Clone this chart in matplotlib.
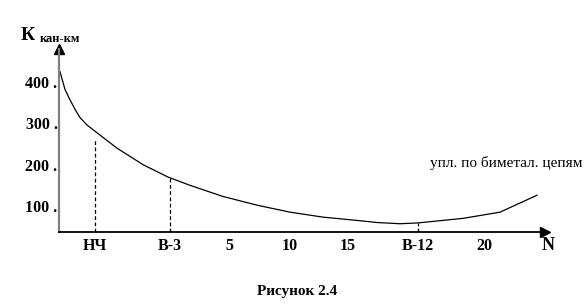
import matplotlib
matplotlib.use("Agg")
import matplotlib.pyplot as plt

# data (x in arbitrary axis units, y in кан-км)
curve_x = [0.1, 0.6, 1.1, 1.6, 2.1, 2.8, 4.4, 5.8, 8.4, 10.9, 13.1, 16.4, 19.8, 23.1, 26.4, 29.8, 31.8, 34.1, 35.9, 40.4, 44.1, 47.8]
curve_y = [425, 382, 357, 334, 314, 296, 266, 240, 200, 170, 150, 123, 102, 85, 73, 65, 60, 57, 59, 70, 85, 126]
tick_pos = [3.6, 11.1, 17.0, 23.1, 28.9, 35.9, 42.5]
tick_labels = ["НЧ", "В-3", "5", "10", "15", "В-12", "20"]
drop_x = [3.6, 11.1, 35.9]
drop_y = [262, 167, 58]
ytick_vals = [100, 200, 300, 400]
ytick_labels = ["100 .", "200 .", "300 .", "400 ."]

W, H = 588, 308
fig = plt.figure(figsize=(W / 100, H / 100), dpi=100)
x0, x1, yb, yt = 59, 545, 232, 49
ax = fig.add_axes([x0 / W, (H - yb) / H, (x1 - x0) / W, (yb - yt) / H])
ax.set_xlim(0, 48.6)
ax.set_ylim(37, 480)

serif = ["Liberation Serif", "DejaVu Serif"]

ax.plot(curve_x, curve_y, color="black", lw=0.9)
for dx, dy in zip(drop_x, drop_y):
    ax.plot([dx, dx], [37, dy], color="black", lw=0.9, ls=(0, (3, 2)))

for s in ["top", "right"]:
    ax.spines[s].set_visible(False)
ax.spines["left"].set_color("#808080")
ax.spines["left"].set_linewidth(1.6)
ax.spines["bottom"].set_color("black")
ax.spines["bottom"].set_linewidth(1.3)

ax.set_xticks(tick_pos)
ax.set_xticklabels(tick_labels, family=serif, fontweight="bold", fontsize=11.5)
ax.set_yticks(ytick_vals)
ax.set_yticklabels(ytick_labels, family=serif, fontweight="bold", fontsize=11.5)
ax.tick_params(axis="both", length=0)
ax.tick_params(axis="x", pad=4)
ax.tick_params(axis="y", pad=1)

# axis arrows
ax.plot([0], [1], marker="^", color="black", markersize=7, transform=ax.transAxes, clip_on=False)
ax.plot([1], [0], marker=">", color="black", markersize=7, transform=ax.transAxes, clip_on=False)

fig.text(548 / W, 1 - 245 / H, "N", family=serif, fontweight="bold", fontsize=13, ha="center", va="center")
fig.text(21 / W, 1 - 36 / H, "К", family=serif, fontweight="bold", fontsize=14, ha="left", va="center")
fig.text(40 / W, 1 - 39 / H, "кан-км", family=serif, fontweight="bold", fontsize=9, ha="left", va="center")
fig.text(582 / W, 1 - 163 / H, "упл. по биметал. цепям", family=serif, fontsize=11, ha="right", va="center")
fig.text(297 / W, 1 - 292 / H, "Рисунок 2.4", family=serif, fontweight="bold", fontsize=11, ha="center", va="center")

fig.savefig("out.png", dpi=100)
